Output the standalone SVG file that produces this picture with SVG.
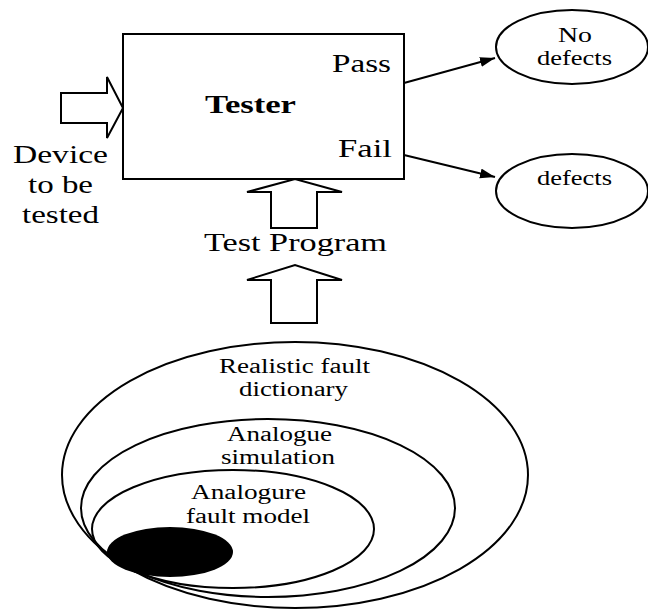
<svg xmlns="http://www.w3.org/2000/svg" width="648" height="611" viewBox="0 0 648 611">
  <defs>
    <marker id="head" markerWidth="16" markerHeight="12" refX="15" refY="5" orient="auto" markerUnits="userSpaceOnUse">
      <path d="M0,0 L15,5 L0,10 Z" fill="#000"/>
    </marker>
  </defs>
  <style>
    .shape { fill: #fff; stroke: #000; stroke-width: 2; }
    .line { fill: none; stroke: #000; stroke-width: 2; }
    .ring { fill: none; stroke: #000; stroke-width: 2; }
    .lbl { font-family: 'Liberation Serif', 'DejaVu Serif', serif; fill: #000; }
    .big { font-size: 25px; }
    .small { font-size: 20px; }
    .bold { font-weight: bold; }
  </style>
  <rect width="648" height="611" fill="#fff"/>

  <!-- Tester block -->
  <g id="tester">
    <rect class="shape" x="123" y="34" width="281" height="145"/>
    <text class="lbl big bold" x="205" y="113" textLength="91" lengthAdjust="spacingAndGlyphs">Tester</text>
    <text class="lbl big" x="332" y="72" textLength="59" lengthAdjust="spacingAndGlyphs">Pass</text>
    <text class="lbl big" x="338" y="157" textLength="54" lengthAdjust="spacingAndGlyphs">Fail</text>
  </g>

  <!-- Device input -->
  <g id="device">
    <path class="shape" d="M61,93 L107,93 L107,77 L123,108 L107,138 L107,123 L61,123 Z"/>
    <text class="lbl big" x="13" y="163" textLength="95" lengthAdjust="spacingAndGlyphs">Device</text>
    <text class="lbl big" x="28" y="193" textLength="65" lengthAdjust="spacingAndGlyphs">to be</text>
    <text class="lbl big" x="22" y="223" textLength="77" lengthAdjust="spacingAndGlyphs">tested</text>
  </g>

  <!-- Test program feed -->
  <g id="test-program">
    <path class="shape" d="M271,228 L271,192 L247,192 L295,179 L342,192 L317,192 L317,228 Z"/>
    <text class="lbl big" x="204" y="251" textLength="183" lengthAdjust="spacingAndGlyphs">Test Program</text>
    <path class="shape" d="M271,323 L271,280 L247,280 L295,265 L342,280 L317,280 L317,323 Z"/>
  </g>

  <!-- Outcomes -->
  <g id="no-defects">
    <ellipse class="shape" cx="572" cy="47" rx="76" ry="37"/>
    <text class="lbl small" x="558" y="42" textLength="34" lengthAdjust="spacingAndGlyphs">No</text>
    <text class="lbl small" x="537" y="65" textLength="75" lengthAdjust="spacingAndGlyphs">defects</text>
  </g>
  <g id="defects">
    <ellipse class="shape" cx="572" cy="191" rx="76" ry="37"/>
    <text class="lbl small" x="537" y="185" textLength="75" lengthAdjust="spacingAndGlyphs">defects</text>
  </g>

  <g id="connectors">
    <line class="line" x1="404" y1="83" x2="495" y2="58" marker-end="url(#head)"/>
    <line class="line" x1="404" y1="155" x2="495" y2="177" marker-end="url(#head)"/>
  </g>

  <!-- Nested fault sets -->
  <g id="fault-dictionary">
    <ellipse class="ring" cx="295" cy="475" rx="233" ry="133"/>
    <text class="lbl small" x="219" y="373" textLength="151" lengthAdjust="spacingAndGlyphs">Realistic fault</text>
    <text class="lbl small" x="239" y="396" textLength="109" lengthAdjust="spacingAndGlyphs">dictionary</text>
  </g>
  <g id="analogue-simulation">
    <ellipse class="ring" cx="268" cy="508" rx="187" ry="89"/>
    <text class="lbl small" x="227" y="441" textLength="105" lengthAdjust="spacingAndGlyphs">Analogue</text>
    <text class="lbl small" x="221" y="464" textLength="114" lengthAdjust="spacingAndGlyphs">simulation</text>
  </g>
  <g id="fault-model">
    <ellipse class="ring" cx="233" cy="529" rx="141" ry="59"/>
    <text class="lbl small" x="191" y="499" textLength="115" lengthAdjust="spacingAndGlyphs">Analogure</text>
    <text class="lbl small" x="186" y="523" textLength="124" lengthAdjust="spacingAndGlyphs">fault model</text>
  </g>
  <g id="detected-faults">
    <ellipse cx="170" cy="552" rx="63" ry="25" fill="#000"/>
  </g>
</svg>
